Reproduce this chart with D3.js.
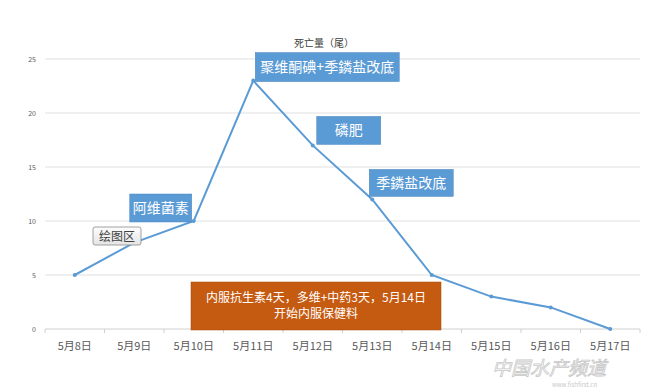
<!DOCTYPE html>
<html><head><meta charset="utf-8">
<script src="https://cdn.jsdelivr.net/npm/d3@7"></script>
<style>body{margin:0;background:#fff;font-family:"Noto Sans CJK SC","Noto Sans",sans-serif}</style>
</head><body><svg id="c" width="666" height="390"></svg>
<script>
const categories = ["5月8日","5月9日","5月10日","5月11日","5月12日","5月13日","5月14日","5月15日","5月16日","5月17日"];
const deaths = [5, 8, 10, 23, 17, 12, 5, 3, 2, 0];
const yTicks = [0, 5, 10, 15, 20, 25];
const title = "死亡量（尾）";
const notes = [
  {text:"聚维酮碘+季鏻盐改底", cat:"5月11日", val:23},
  {text:"阿维菌素", cat:"5月10日", val:10},
  {text:"磷肥", cat:"5月12日", val:17},
  {text:"季鏻盐改底", cat:"5月13日", val:12}
];
const bigNote = ["内服抗生素4天，多维+中药3天，5月14日","开始内服保健料"];

const svg = d3.select("#c");
const x = d3.scaleBand().domain(categories).range([45, 640]);
const y = d3.scaleLinear().domain([0, 25]).range([329, 59]);
const cx = c => x(c) + x.bandwidth()/2;

// gridlines
svg.append("g").selectAll("line").data(yTicks).join("line")
  .attr("x1", 45).attr("x2", 640).attr("y1", d=>y(d)).attr("y2", d=>y(d))
  .attr("stroke", d=> d===0 ? "#d0d0d0" : "#e0e0e0").attr("stroke-width",1);
// y labels
svg.append("g").selectAll("text").data(yTicks).join("text")
  .attr("x", 36).attr("y", d=>y(d)+2.5).attr("text-anchor","end")
  .attr("font-size", 7).attr("fill","#595959").text(d=>d);
// x ticks
const xa = svg.append("g").attr("transform","translate(0,329)")
  .call(d3.axisBottom(x).tickSize(0).tickFormat(""));
xa.select(".domain").remove();
svg.append("g").selectAll("line").data(categories.concat(["end"])).join("line")
  .attr("x1",(d,i)=> i<categories.length ? x(d) : 640).attr("x2",(d,i)=> i<categories.length ? x(d) : 640)
  .attr("y1",329).attr("y2",333).attr("stroke","#d0d0d0");
svg.append("g").selectAll("text").data(categories).join("text")
  .attr("x", d=>cx(d)).attr("y", 350).attr("text-anchor","middle")
  .attr("font-size", 11).attr("fill","#595959").text(d=>d);

// title
svg.append("text").attr("x", 324).attr("y", 47).attr("text-anchor","middle")
  .attr("font-size", 10).attr("fill","#404040").text(title);

// orange note box (behind line)
const ob = svg.append("g");
ob.append("rect").attr("x",191).attr("y",282).attr("width",250).attr("height",48)
  .attr("fill","#C55A11").attr("stroke","#a84a0c").attr("stroke-width",0.5);
ob.selectAll("text").data(bigNote).join("text")
  .attr("x",316).attr("y",(d,i)=>302+i*16).attr("text-anchor","middle")
  .attr("font-size",12).attr("fill","#fff").text(d=>d);

// line
const line = d3.line().x((d,i)=>cx(categories[i])).y(d=>y(d));
svg.append("path").datum(deaths).attr("d", line).attr("fill","none")
  .attr("stroke","#5B9BD5").attr("stroke-width",2);
svg.append("g").selectAll("circle").data(deaths).join("circle")
  .attr("cx",(d,i)=>cx(categories[i])).attr("cy",d=>y(d)).attr("r",2).attr("fill","#5B9BD5");

// blue callouts
const boxes = [
  {dx:2, dy:-28, w:144, h:29},
  {dx:-64, dy:-27, w:62, h:28},
  {dx:4, dy:-29, w:64, h:28},
  {dx:-3, dy:-30, w:84, h:27}
];
notes.forEach((n,i)=>{
  const b = boxes[i];
  const bx = cx(n.cat)+b.dx, by = y(n.val)+b.dy;
  svg.append("rect").attr("x",bx).attr("y",by).attr("width",b.w).attr("height",b.h)
    .attr("fill","#5B9BD5").attr("stroke","#4a86bf").attr("stroke-width",0.5);
  svg.append("text").attr("x",bx+b.w/2).attr("y",by+b.h/2+5).attr("text-anchor","middle")
    .attr("font-size",14).attr("fill","#fff").text(n.text);
});

// tooltip "绘图区"
const defs = svg.append("defs");
const g = defs.append("linearGradient").attr("id","tg").attr("x1",0).attr("y1",0).attr("x2",0).attr("y2",1);
g.append("stop").attr("offset",0).attr("stop-color","#fdfdfd");
g.append("stop").attr("offset",1).attr("stop-color","#e4e4e4");
svg.append("rect").attr("x",93).attr("y",227).attr("width",48).attr("height",18).attr("rx",2)
  .attr("fill","url(#tg)").attr("stroke","#8a8a8a").attr("stroke-width",0.8);
svg.append("text").attr("x",117).attr("y",240.5).attr("text-anchor","middle")
  .attr("font-size",12).attr("fill","#404040").text("绘图区");

// watermark
svg.append("text").attr("x",492).attr("y",375).attr("font-size",19).attr("font-style","italic")
  .attr("fill","none").attr("stroke","#c8c8c8").attr("stroke-width",0.8).text("中国水产频道");
svg.append("text").attr("x",552).attr("y",387).attr("font-size",6)
  .attr("fill","#c8c8c8").text("www.fishfirst.cn");
</script></body></html>
